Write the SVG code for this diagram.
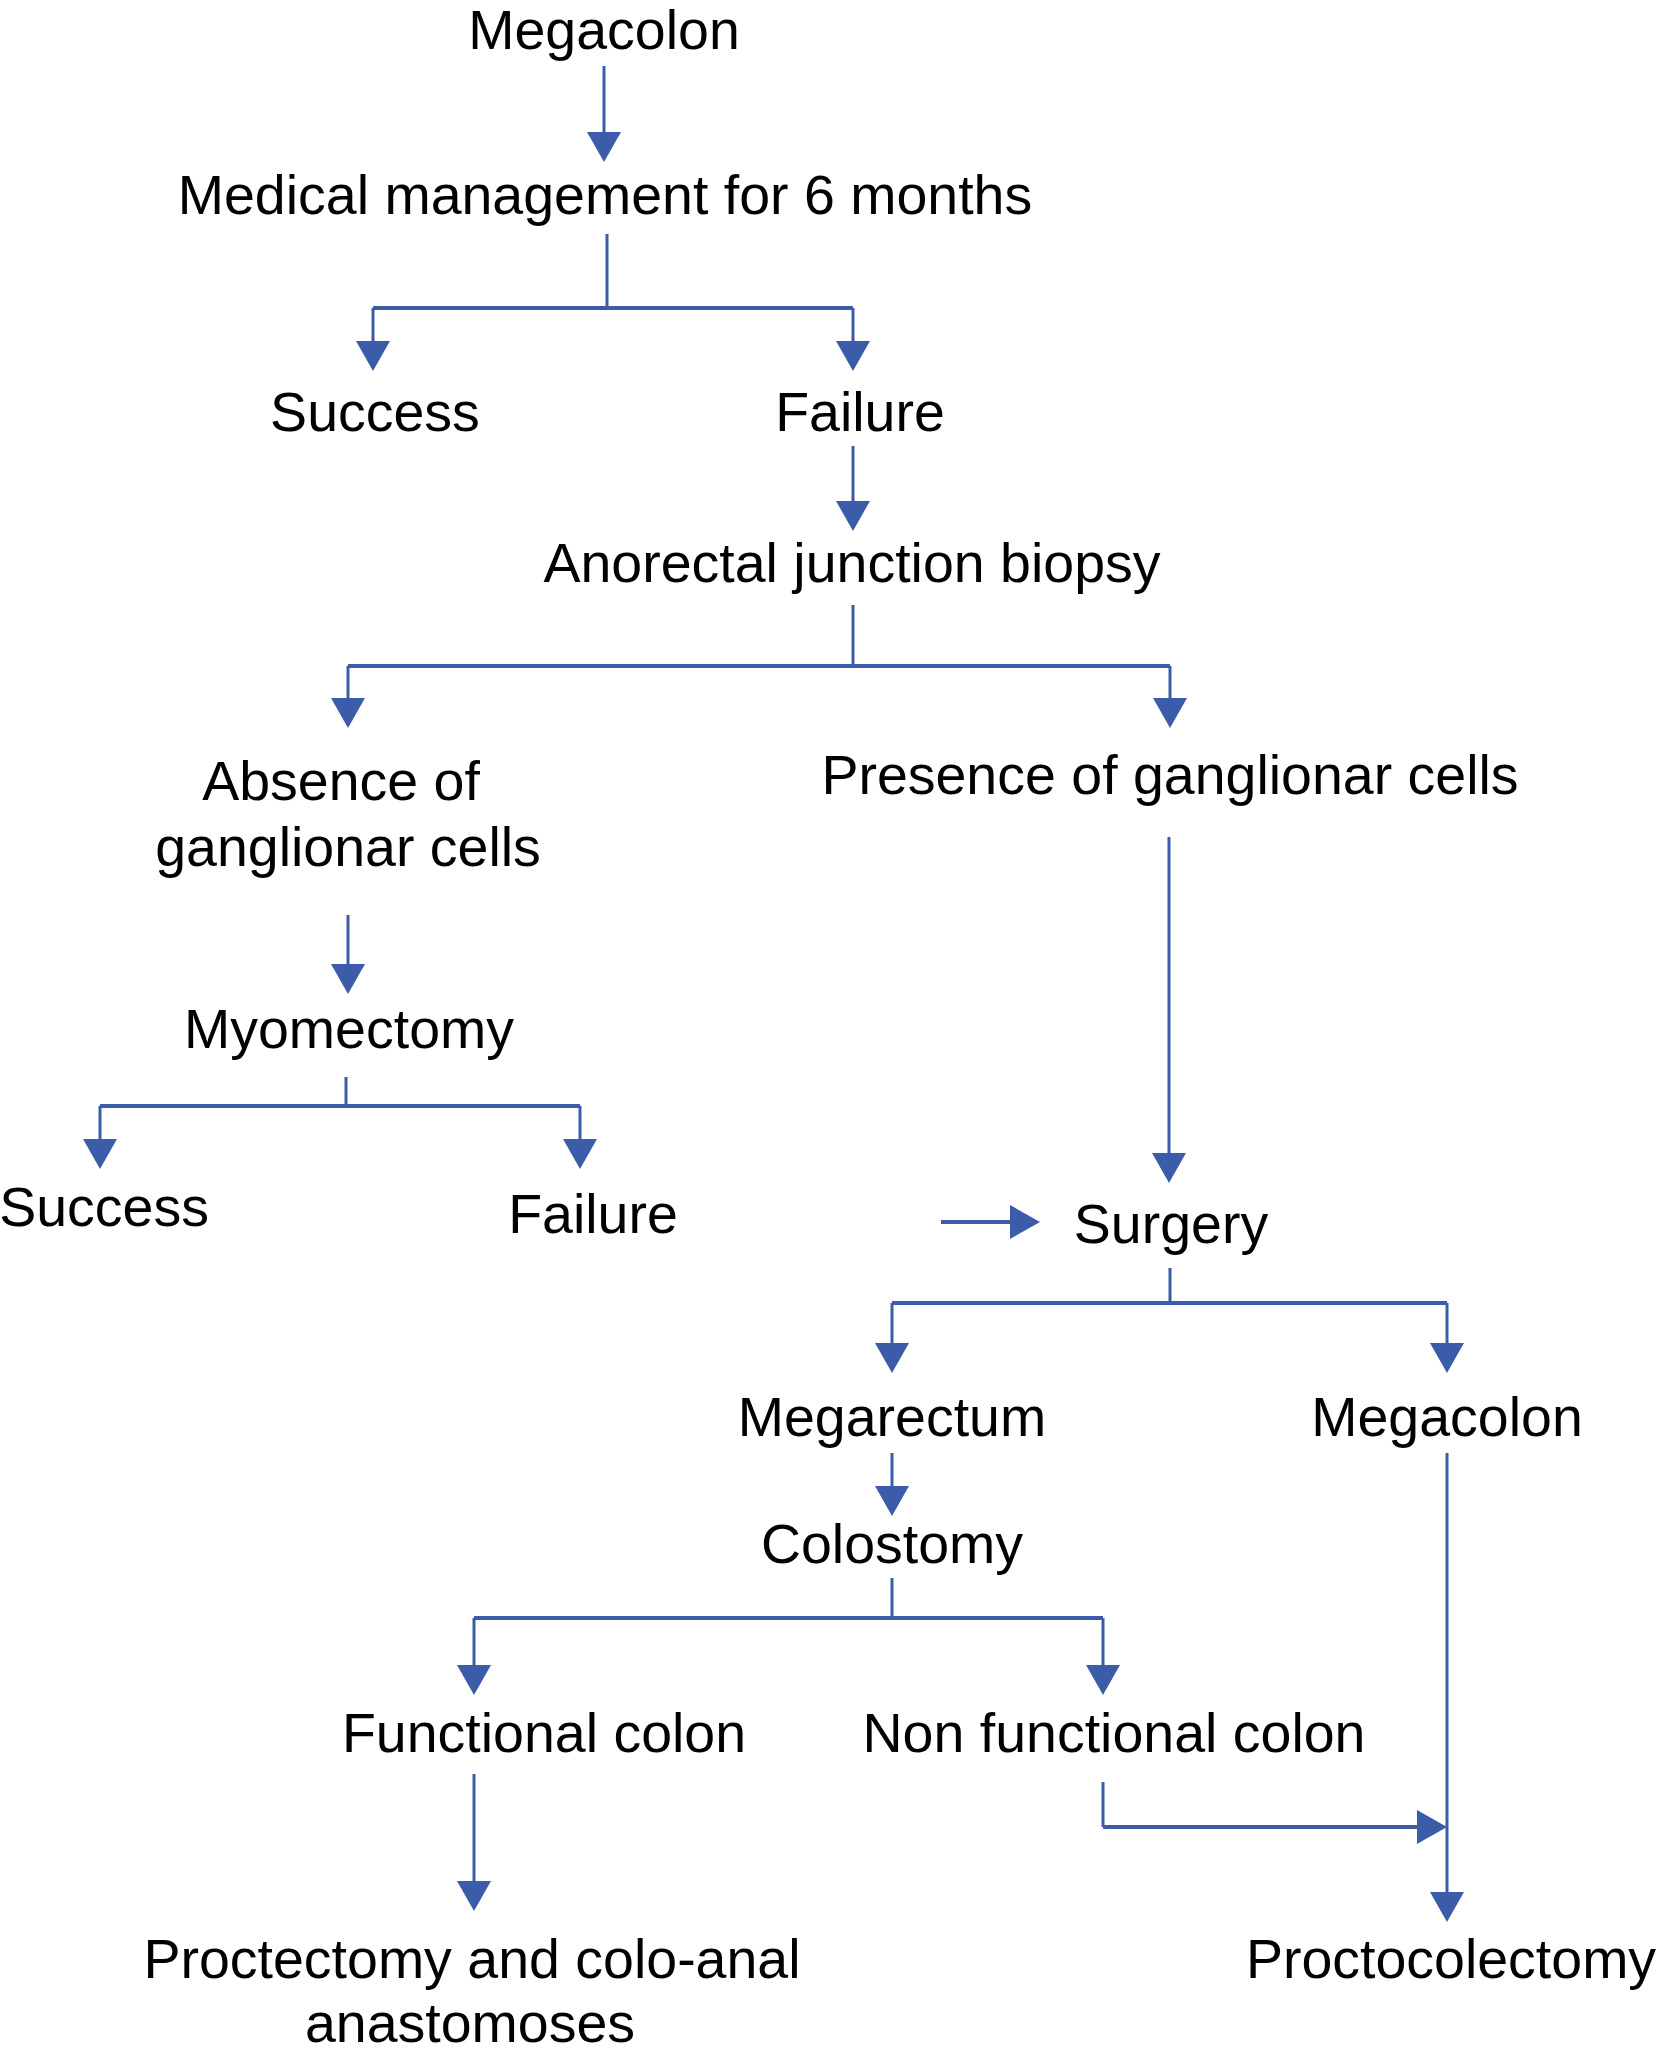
<svg xmlns="http://www.w3.org/2000/svg" width="1656" height="2071" viewBox="0 0 1656 2071">
<style>
text{font-family:"Liberation Sans",Arial,sans-serif;font-size:55.5px;fill:#000;text-anchor:middle}
.c path{fill:none;stroke:#3B5CA8;stroke-width:3}
.c path.h{stroke-width:4}
</style>
<defs>
<marker id="ah" viewBox="0 0 30 34" markerWidth="30" markerHeight="34" refX="0" refY="17" orient="auto" markerUnits="userSpaceOnUse">
<path d="M0,0 L30,17 L0,34 Z" fill="#3B5CA8"/>
</marker>
</defs>
<rect width="1656" height="2071" fill="#fff"/>
<g class="c" id="connectors">
<path d="M604,66 V132" marker-end="url(#ah)"/>
<path d="M607,234 V308"/>
<path class="h" d="M373,308 H853"/>
<path d="M373,308 V341" marker-end="url(#ah)"/>
<path d="M853,308 V341" marker-end="url(#ah)"/>
<path d="M853,446 V501" marker-end="url(#ah)"/>
<path d="M853,605 V666"/>
<path class="h" d="M348,666 H1170"/>
<path d="M348,666 V698" marker-end="url(#ah)"/>
<path d="M1170,666 V698" marker-end="url(#ah)"/>
<path d="M348,915 V964" marker-end="url(#ah)"/>
<path d="M346,1077 V1106"/>
<path class="h" d="M100,1106 H580"/>
<path d="M100,1106 V1139" marker-end="url(#ah)"/>
<path d="M580,1106 V1139" marker-end="url(#ah)"/>
<path d="M1169,837 V1153" marker-end="url(#ah)"/>
<path class="h" d="M941,1222 H1010" marker-end="url(#ah)"/>
<path d="M1170,1268 V1303"/>
<path class="h" d="M892,1303 H1447"/>
<path d="M892,1303 V1343" marker-end="url(#ah)"/>
<path d="M1447,1303 V1343" marker-end="url(#ah)"/>
<path d="M892,1453 V1486" marker-end="url(#ah)"/>
<path d="M892,1578 V1618"/>
<path class="h" d="M474,1618 H1103"/>
<path d="M474,1618 V1665" marker-end="url(#ah)"/>
<path d="M1103,1618 V1665" marker-end="url(#ah)"/>
<path d="M474,1774 V1881" marker-end="url(#ah)"/>
<path d="M1103,1782 V1827"/>
<path class="h" d="M1103,1827 H1417" marker-end="url(#ah)"/>
<path d="M1447,1453 V1892" marker-end="url(#ah)"/>
</g>
<g id="n-megacolon"><text x="604" y="49">Megacolon</text></g>
<g id="n-medical"><text x="605" y="214">Medical management for 6 months</text></g>
<g id="n-success1"><text x="375" y="431">Success</text></g>
<g id="n-failure1"><text x="860" y="431">Failure</text></g>
<g id="n-biopsy"><text x="852" y="582">Anorectal junction biopsy</text></g>
<g id="n-absence"><text x="341" y="800">Absence of</text><text x="348" y="866">ganglionar cells</text></g>
<g id="n-presence"><text x="1170" y="794">Presence of ganglionar cells</text></g>
<g id="n-myomectomy"><text x="349" y="1048">Myomectomy</text></g>
<g id="n-success2"><text x="104" y="1226">Success</text></g>
<g id="n-failure2"><text x="593" y="1233">Failure</text></g>
<g id="n-surgery"><text x="1171" y="1243">Surgery</text></g>
<g id="n-megarectum"><text x="892" y="1436">Megarectum</text></g>
<g id="n-megacolon2"><text x="1447" y="1436">Megacolon</text></g>
<g id="n-colostomy"><text x="892" y="1563">Colostomy</text></g>
<g id="n-functional"><text x="544" y="1752">Functional colon</text></g>
<g id="n-nonfunctional"><text x="1114" y="1752">Non functional colon</text></g>
<g id="n-proctectomy"><text x="472" y="1978">Proctectomy and colo-anal</text><text x="470" y="2042">anastomoses</text></g>
<g id="n-proctocolectomy"><text x="1451" y="1978">Proctocolectomy</text></g>
</svg>
